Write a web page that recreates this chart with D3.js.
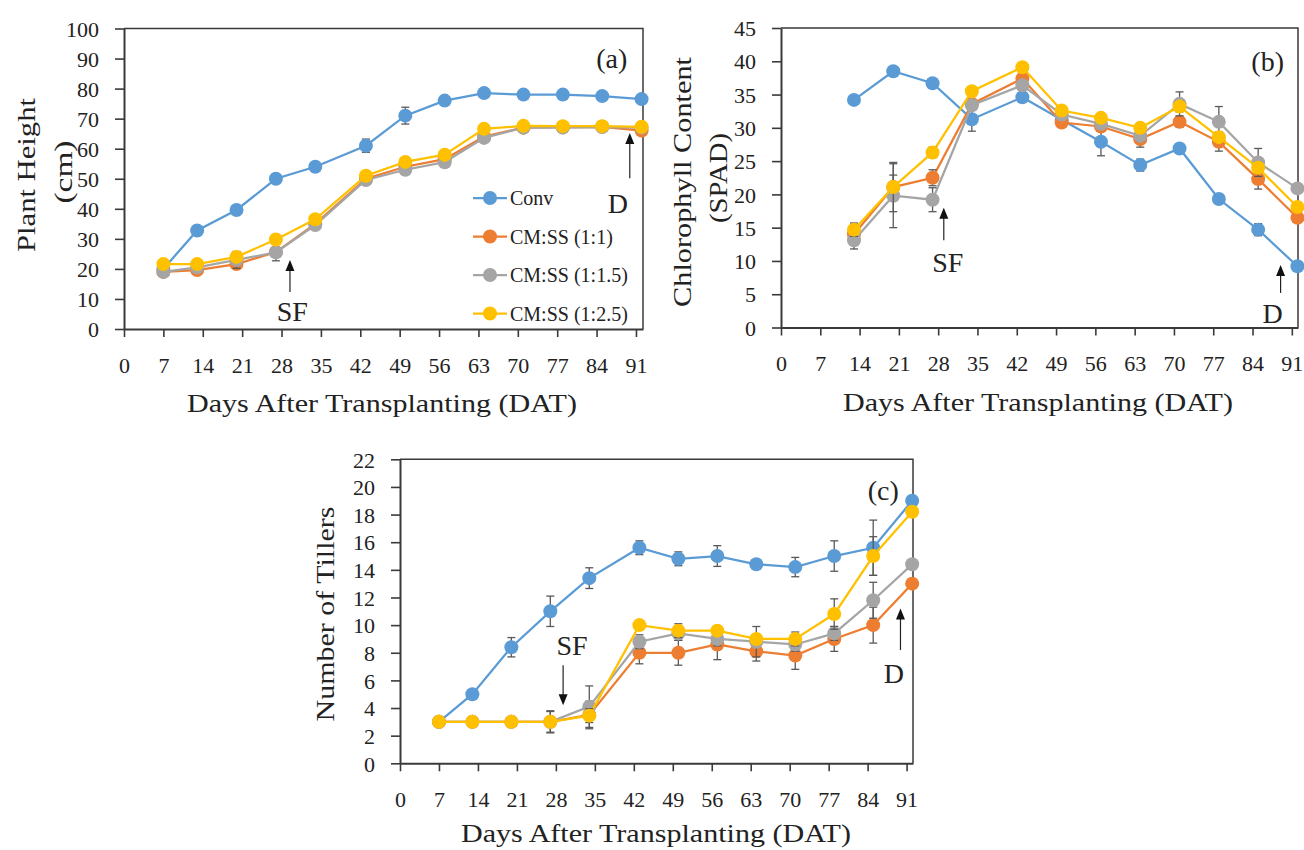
<!DOCTYPE html>
<html>
<head>
<meta charset="utf-8">
<script src="https://cdn.jsdelivr.net/npm/d3@7"></script>
<style>
  body { margin: 0; background: #fff; }
  svg { display: block; }
</style>
</head>
<body>
<svg id="chart" width="1304" height="850"></svg>
<script>
// series names + colours
const seriesNames = ["Conv", "CM:SS (1:1)", "CM:SS (1:1.5)", "CM:SS (1:2.5)"];
const seriesColors = ["#5b9bd5", "#ed7d31", "#a5a5a5", "#ffc000"];
const xTicks = [0, 7, 14, 21, 28, 35, 42, 49, 56, 63, 70, 77, 84, 91];

// (a) plant height, cm
const daysA = [7, 13, 20, 27, 34, 43, 50, 57, 64, 71, 78, 85, 92];
const heightConv = [20, 32.8, 39.6, 50, 54, 61, 71, 76, 78.5, 78, 78, 77.5, 76.5];
const height11 = [19, 19.6, 21.6, 25.6, 35, 50, 54, 56.5, 64, 67, 67.2, 67.3, 66];
const height115 = [19, 20.5, 23, 25.5, 34.6, 49.6, 53, 55.5, 63.6, 67, 67, 67.2, 67];
const height125 = [21.6, 21.6, 24, 29.8, 36.5, 51, 55.6, 58, 66.6, 67.6, 67.5, 67.5, 67.3];
const errHeightConv = [0.5, 0.8, 0.8, 0.8, 0.8, 2.2, 2.8, 0.8, 0.8, 0.8, 0.8, 0.8, 0.8];
const errHeight11 = [0.5, 0.5, 0.8, 0.8, 0.8, 0.8, 0.8, 0.8, 0.8, 0.5, 0.5, 0.5, 0.5];
const errHeight115 = [0.5, 0.8, 2.8, 2.8, 0.8, 0.8, 0.8, 0.8, 0.8, 0.5, 0.5, 0.5, 0.5];
const errHeight125 = [0.5, 0.5, 0.8, 0.8, 0.8, 0.8, 0.8, 0.8, 0.5, 0.5, 0.5, 0.5, 0.5];
const yTicksA = d3.range(0, 101, 10);

// (b) chlorophyll content, SPAD
const daysB = [13, 20, 27, 34, 43, 50, 57, 64, 71, 78, 85, 92];
const spadConv = [34.2, 38.5, 36.7, 31.3, 34.6, 31.2, 27.9, 24.4, 26.9, 19.3, 14.7, 9.2];
const spad11 = [14, 21.1, 22.5, 33.6, 37.4, 30.8, 30.2, 28.3, 30.9, 27.9, 22.3, 16.5];
const spad115 = [13.1, 19.8, 19.2, 33.4, 36.4, 32, 30.6, 28.8, 33.6, 30.9, 24.8, 20.9];
const spad125 = [14.7, 21.1, 26.3, 35.5, 39.1, 32.6, 31.5, 30, 33.2, 28.6, 24, 18.1];
const errSpadConv = [0.5, 0.5, 0.5, 1.8, 0.5, 0.5, 2.1, 0.9, 0.5, 0.5, 0.9, 0.5];
const errSpad11 = [1.5, 1.8, 1.2, 0.5, 0.5, 0.5, 0.5, 1.2, 0.8, 1.4, 1.5, 0.5];
const errSpad115 = [1.3, 4.8, 1.8, 0.5, 0.5, 0.5, 0.5, 0.8, 1.8, 2.3, 2.1, 0.5];
const errSpad125 = [1.0, 3.7, 0.8, 0.5, 0.5, 0.5, 0.5, 0.5, 0.8, 0.8, 0.8, 0.5];
const yTicksB = d3.range(0, 46, 5);

// (c) number of tillers
const daysC = [7, 13, 20, 27, 34, 43, 50, 57, 64, 71, 78, 85, 92];
const tillConv = [3, 5, 8.4, 11, 13.4, 15.6, 14.8, 15, 14.4, 14.2, 15, 15.6, 19];
const till11 = [3, 3, 3, 3, 3.5, 8, 8, 8.6, 8.1, 7.8, 9, 10, 13];
const till115 = [3, 3, 3, 3, 4.1, 8.8, 9.4, 9, 8.8, 8.6, 9.4, 11.8, 14.4];
const till125 = [3, 3, 3, 3, 3.45, 10, 9.6, 9.6, 9, 9, 10.8, 15, 18.2];
const errTillConv = [0, 0, 0.7, 1.1, 0.75, 0.5, 0.5, 0.75, 0.2, 0.7, 1.1, 2, 0.2];
const errTill11 = [0, 0, 0, 0.8, 1, 0.8, 0.9, 1.1, 0.7, 1, 0.9, 1.3, 0.2];
const errTill115 = [0, 0, 0, 0.75, 1.5, 0.5, 0.5, 0.5, 1.1, 0.5, 0.5, 1.3, 0.2];
const errTill125 = [0, 0, 0, 0.3, 0.5, 0.3, 0.5, 0.3, 0.3, 0.5, 1.1, 1.4, 0.2];
const yTicksC = d3.range(0, 23, 2);

const svg = d3.select("#chart");
const FONT = "'Liberation Serif', 'DejaVu Serif', serif";
const AXIS = "#3a3a3a";

function drawPanel(p) {
  const x = d3.scaleLinear().domain([0, p.xMax]).range([p.left, p.right]);
  const y = d3.scaleLinear().domain([0, p.yMax]).range([p.bottom, p.top]);
  const g = svg.append("g");

  // top + right frame
  g.append("path")
    .attr("d", `M${p.left},${p.top}H${p.right}V${p.bottom}`)
    .attr("fill", "none").attr("stroke", AXIS).attr("stroke-width", 1.5);

  const yAxis = g.append("g")
    .attr("transform", `translate(${p.left},0)`)
    .call(d3.axisLeft(y).tickValues(p.yTicks).tickSize(9).tickSizeOuter(0).tickPadding(16));
  const xAxis = g.append("g")
    .attr("transform", `translate(0,${p.bottom})`)
    .call(d3.axisBottom(x).tickValues(xTicks).tickSize(8).tickSizeOuter(0));
  [xAxis, yAxis].forEach(a => {
    a.select(".domain").attr("stroke", AXIS).attr("stroke-width", 2);
    a.selectAll(".tick line").attr("stroke", AXIS).attr("stroke-width", 1.6);
    a.selectAll("text").attr("font-family", FONT).attr("font-size", 22).attr("fill", "#222");
  });
  yAxis.selectAll("text").attr("dy", "0.35em");
  xAxis.selectAll("text").attr("y", 36).attr("dy", "0.35em");

  // series: line, error bars, markers
  p.series.forEach((vals, i) => {
    const pts = p.days.map((d, j) => ({ d, v: vals[j], e: p.errs[i][j] }));
    const sg = g.append("g");
    sg.append("path")
      .datum(pts)
      .attr("d", d3.line().x(q => x(q.d)).y(q => y(q.v)))
      .attr("fill", "none").attr("stroke", seriesColors[i]).attr("stroke-width", 2.25);
    const eb = sg.selectAll(".eb").data(pts.filter(q => q.e > 0)).enter().append("g");
    eb.append("line")
      .attr("x1", q => x(q.d)).attr("x2", q => x(q.d))
      .attr("y1", q => y(q.v - q.e)).attr("y2", q => y(q.v + q.e));
    eb.append("line")
      .attr("x1", q => x(q.d) - 4).attr("x2", q => x(q.d) + 4)
      .attr("y1", q => y(q.v - q.e)).attr("y2", q => y(q.v - q.e));
    eb.append("line")
      .attr("x1", q => x(q.d) - 4).attr("x2", q => x(q.d) + 4)
      .attr("y1", q => y(q.v + q.e)).attr("y2", q => y(q.v + q.e));
    eb.selectAll("line").attr("stroke", "#595959").attr("stroke-width", 1.3);
    sg.selectAll("circle").data(pts).enter().append("circle")
      .attr("cx", q => x(q.d)).attr("cy", q => y(q.v)).attr("r", 7)
      .attr("fill", seriesColors[i]);
  });

  // axis titles
  g.append("text")
    .attr("x", p.xTitle[0]).attr("y", p.xTitle[1])
    .attr("text-anchor", "middle").attr("font-family", FONT).attr("font-size", 26).attr("fill", "#222")
    .attr("textLength", 390).attr("lengthAdjust", "spacingAndGlyphs")
    .text("Days After Transplanting (DAT)");
  p.yTitle.forEach(t => {
    g.append("text")
      .attr("transform", `translate(${t.x},${t.y}) rotate(-90)`)
      .attr("text-anchor", "middle").attr("dy", "0.35em")
      .attr("font-family", FONT).attr("font-size", 26).attr("fill", "#222")
      .attr("textLength", t.len).attr("lengthAdjust", "spacingAndGlyphs")
      .text(t.text);
  });

  // panel letter
  g.append("text")
    .attr("x", x(p.letter[0])).attr("y", y(p.letter[1])).attr("dy", "0.35em")
    .attr("text-anchor", "middle").attr("font-family", FONT).attr("font-size", 28).attr("fill", "#222")
    .text(p.letter[2]);

  // SF / D notes with arrows
  p.notes.forEach(n => {
    g.append("text")
      .attr("x", x(n.tx)).attr("y", y(n.ty)).attr("dy", "0.35em")
      .attr("text-anchor", "middle").attr("font-family", FONT).attr("font-size", 28).attr("fill", "#222")
      .text(n.label);
    const ax = x(n.ax), y1 = y(n.from), y2 = y(n.to);
    const dir = y2 < y1 ? 1 : -1;
    g.append("line")
      .attr("x1", ax).attr("x2", ax).attr("y1", y1).attr("y2", y2 + dir * 8)
      .attr("stroke", "#222").attr("stroke-width", 1.2);
    g.append("path")
      .attr("d", `M${ax},${y2}L${ax - 4.5},${y2 + dir * 11}L${ax + 4.5},${y2 + dir * 11}Z`)
      .attr("fill", "#111");
  });
  return { x, y, g };
}

const pa = drawPanel({
  left: 124, right: 643, top: 28.5, bottom: 329, xMax: 92.25, yMax: 100,
  yTicks: yTicksA, days: daysA,
  series: [heightConv, height11, height115, height125],
  errs: [errHeightConv, errHeight11, errHeight115, errHeight125],
  xTitle: [382, 412],
  yTitle: [{ text: "Plant Height", x: 26, y: 175, len: 154 }, { text: "(cm)", x: 63, y: 172, len: 63 }],
  letter: [86.7, 90.1, "(a)"],
  notes: [
    { label: "SF", tx: 29.9, ty: 6, ax: 29.5, from: 12.3, to: 23 },
    { label: "D", tx: 87.8, ty: 41.9, ax: 89.9, from: 50.2, to: 65.2 }
  ]
});

drawPanel({
  left: 781, right: 1298, top: 28, bottom: 327.5, xMax: 92.1, yMax: 45,
  yTicks: yTicksB, days: daysB,
  series: [spadConv, spad11, spad115, spad125],
  errs: [errSpadConv, errSpad11, errSpad115, errSpad125],
  xTitle: [1038, 411],
  yTitle: [{ text: "Chlorophyll Content", x: 682, y: 182, len: 250 }, { text: "(SPAD)", x: 718, y: 178, len: 90 }],
  letter: [86.7, 40, "(b)"],
  notes: [
    { label: "SF", tx: 29.7, ty: 9.8, ax: 29.0, from: 13.1, to: 18.0 },
    { label: "D", tx: 87.6, ty: 2.2, ax: 89.0, from: 5.2, to: 9.4 }
  ]
});

drawPanel({
  left: 400, right: 913, top: 459.3, bottom: 763.3, xMax: 92.15, yMax: 22,
  yTicks: yTicksC, days: daysC,
  series: [tillConv, till11, till115, till125],
  errs: [errTillConv, errTill11, errTill115, errTill125],
  xTitle: [656, 842],
  yTitle: [{ text: "Number of Tillers", x: 325, y: 614, len: 215 }],
  letter: [86.8, 19.8, "(c)"],
  notes: [
    { label: "SF", tx: 30.9, ty: 8.55, ax: 29.3, from: 7.1, to: 4.2 },
    { label: "D", tx: 88.7, ty: 6.54, ax: 89.9, from: 8.2, to: 11.2 }
  ]
});

// legend inside panel (a)
const legend = svg.append("g").attr("transform", "translate(473,198)");
seriesNames.forEach((name, i) => {
  const row = legend.append("g").attr("transform", `translate(0,${i * 38.5})`);
  row.append("line").attr("x1", 0).attr("x2", 34).attr("stroke", seriesColors[i]).attr("stroke-width", 2.25);
  row.append("circle").attr("cx", 17).attr("r", 7).attr("fill", seriesColors[i]);
  row.append("text").attr("x", 37).attr("dy", "0.35em")
    .attr("font-family", FONT).attr("font-size", 20).attr("fill", "#222")
    .text(name);
});
</script>
</body>
</html>
